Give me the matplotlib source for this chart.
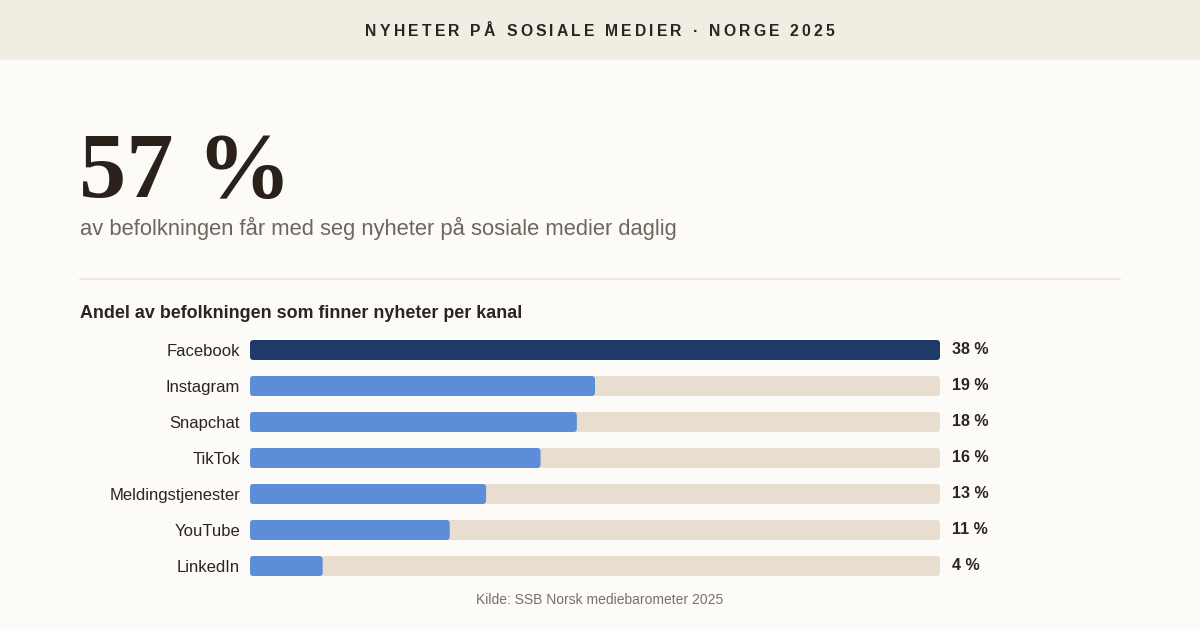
import matplotlib
matplotlib.use("Agg")
import matplotlib.pyplot as plt
from matplotlib.patches import FancyBboxPatch, Rectangle

# ---- data ----
channels = ["Facebook", "Instagram", "Snapchat", "TikTok", "Meldingstjenester", "YouTube", "LinkedIn"]
shares = [38, 19, 18, 16, 13, 11, 4]
value_labels = ["38 %", "19 %", "18 %", "16 %", "13 %", "11 %", "4 %"]
headline_value = "57 %"
header = "NYHETER PÅ SOSIALE MEDIER · NORGE 2025"
subtitle = "av befolkningen får med seg nyheter på sosiale medier daglig"
section_title = "Andel av befolkningen som finner nyheter per kanal"
source = "Kilde: SSB Norsk mediebarometer 2025"

W, H = 1200, 630
BG = "#FCFBF7"
HEADER_BG = "#F2EDE3"
DARK = "#1F3A68"
BLUE = "#5B8DD9"
TRACK = "#E8DDCE"
TEXT = "#2A2520"

plt.rcParams["font.family"] = ["Liberation Sans", "DejaVu Sans"]

fig = plt.figure(figsize=(W / 100, H / 100), dpi=100, facecolor=BG)

# overlay axes in pixel coordinates
ov = fig.add_axes([0, 0, 1, 1])
ov.set_xlim(0, W)
ov.set_ylim(H, 0)
ov.axis("off")
ov.set_zorder(0)
ov.add_patch(Rectangle((0, 0), W, 60, facecolor=HEADER_BG, edgecolor="none"))
ov.plot([80, 1120], [279, 279], color="#ECE6DC", lw=1.2)

# header with letter spacing
fig.canvas.draw()
renderer = fig.canvas.get_renderer()
hsize = 11.3
widths = []
for ch in header:
    t = ov.text(0, 0, ch, fontsize=hsize, fontweight="bold")
    w = t.get_window_extent(renderer).width
    t.remove()
    widths.append(w)
target = 469
nat = sum(widths)
spacing = (target - nat) / (len(header) - 1)
x = 600 - target / 2
for ch, w in zip(header, widths):
    ov.text(x, 31, ch, fontsize=hsize, fontweight="bold", color=TEXT,
            va="center", ha="left")
    x += w + spacing

# headline
ov.text(79, 197, headline_value, fontsize=68, fontweight="bold",
        family=["Liberation Serif", "DejaVu Serif"], color="#2A211B",
        va="baseline", ha="left")
ov.text(80, 228, subtitle, fontsize=15.8, color="#6E655D", va="center", ha="left")
ov.text(80, 314, section_title, fontsize=12.9, fontweight="bold", color=TEXT,
        va="center", ha="left")
ov.text(600, 600, source, fontsize=10, color="#77716B", va="center", ha="center")

# bar axes
left, right = 250, 940
top, bottom = 332, 584
ax = fig.add_axes([left / W, 1 - bottom / H, (right - left) / W, (bottom - top) / H])
ax.set_facecolor("none")
ax.set_zorder(1)
xmax = max(shares)
ax.set_xlim(0, xmax)
n = len(channels)
ax.set_ylim(n - 0.5, -0.5)
for s in ax.spines.values():
    s.set_visible(False)
ax.set_xticks([])
ax.set_yticks(range(n))
ax.set_yticklabels(channels, fontsize=12, color=TEXT)
ax.tick_params(axis="y", length=0, pad=7.2)

bh = 20 / 36
px_per_x = (right - left) / xmax
px_per_y = 36
r_px = 3.5
rx = r_px / px_per_x
aspect = (1 / px_per_y) / (1 / px_per_x)

tracks = ax.barh(range(n), [xmax] * n, height=bh)
bars = ax.barh(range(n), shares, height=bh)
for group, colors in ((tracks, [TRACK] * n), (bars, [DARK] + [BLUE] * (n - 1))):
    for rect, c in zip(group, colors):
        x0, y0 = rect.get_x(), rect.get_y()
        w, h = rect.get_width(), rect.get_height()
        rect.set_visible(False)
        p = FancyBboxPatch((x0, y0), w, h,
                           boxstyle=f"round,pad=0,rounding_size={rx}",
                           mutation_aspect=aspect, facecolor=c, edgecolor="none")
        ax.add_patch(p)

for i, lab in enumerate(value_labels):
    ax.text(xmax + 12 / px_per_x, i, lab, fontsize=11.5, fontweight="bold",
            color=TEXT, va="center", ha="left", clip_on=False)

fig.savefig("out.png", dpi=100, facecolor=BG)
